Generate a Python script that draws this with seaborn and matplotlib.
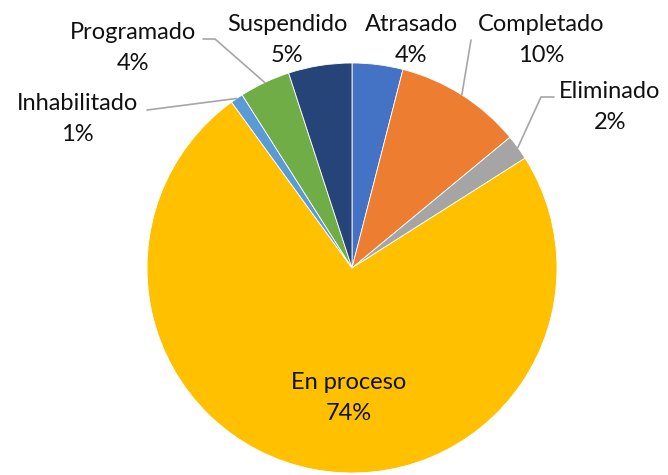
# -*- encoding utf-8 -*-
'''
Pie chart - estado de las tareas
'''

# %% libraries
import matplotlib
matplotlib.use('Agg')
import matplotlib.pyplot as plt
import seaborn as sns
import numpy as np

# %% data
categorias = ['Atrasado', 'Completado', 'Eliminado', 'En proceso',
              'Inhabilitado', 'Programado', 'Suspendido']
porcentajes = [4, 10, 2, 74, 1, 4, 5]
colores = ['#4472C4', '#ED7D31', '#A5A5A5', '#FFC000',
           '#5B9BD5', '#70AD47', '#264478']

# label centres in pixels of the 668x475 canvas (x, y from top)
label_px = [(411, 40), (541, 40), (610, 107), (349, 398),
            (77, 119), (133, 48), (287, 40)]
# leader line start (pixels) or None
leader_px = [None, (471, 40), [(554, 97), (541, 97)], None,
             [(147, 110)], [(203, 39), (215, 39)], None]

# %% geometry: pie centre and radius in pixels
W, H = 668, 475
cx, cy, R = 352, 268, 205


def to_data(p):
    return ((p[0] - cx) / R, (cy - p[1]) / R)


# %% style
sns.set_theme(style='white')
plt.rcParams['font.family'] = ['Lato', 'DejaVu Sans']

fig = plt.figure(figsize=(W / 100, H / 100), dpi=100)
ax = fig.add_axes([0, 0, 1, 1])

wedges, _ = ax.pie(porcentajes, colors=sns.color_palette(colores),
                   startangle=90, counterclock=False, radius=1,
                   wedgeprops=dict(linewidth=0.6, edgecolor='white'))

ax.set_xlim(-cx / R, (W - cx) / R)
ax.set_ylim((cy - H) / R, cy / R)
ax.set_aspect('auto')
ax.axis('off')

# %% labels
for w, cat, val, lp, ld in zip(wedges, categorias, porcentajes,
                               label_px, leader_px):
    x, y = to_data(lp)
    ax.text(x, y, f'{cat}\n{val}%', ha='center', va='center',
            fontsize=17, color='#111111', linespacing=1.55)
    if ld is not None:
        ang = np.deg2rad((w.theta1 + w.theta2) / 2)
        pts = [to_data(p) for p in (ld if isinstance(ld, list) else [ld])]
        pts.append((np.cos(ang), np.sin(ang)))
        xs, ys = zip(*pts)
        ax.plot(xs, ys, color='#A6A6A6', lw=1.2)

plt.savefig('out.png', dpi=100)
